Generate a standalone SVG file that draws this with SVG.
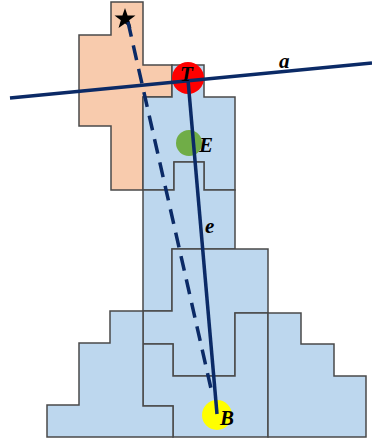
<svg xmlns="http://www.w3.org/2000/svg" width="372" height="441" viewBox="0 0 372 441">
<style>
.or{fill:#F8CBAD;stroke:#4a4a4a;stroke-width:1.5;stroke-linejoin:miter}
.bl{fill:#BDD7EE;stroke:#4a4a4a;stroke-width:1.5;stroke-linejoin:miter}
.ln{stroke:#0B2A66;stroke-width:3.5;fill:none;stroke-linecap:butt}
.lb{font-family:"Liberation Serif","Times New Roman",serif;font-style:italic;font-weight:bold;font-size:21px;fill:#000}
</style>
<rect width="372" height="441" fill="#ffffff"/>
<g id="pieces">
<polygon id="orange" class="or" points="111,2 143,2 143,65 172,65 172,97 143,97 143,190 111,190 111,126 79,126 79,35 111,35"/>
<polygon id="pieceA" class="bl" points="172,65 204,65 204,97 235,97 235,190 204,190 204,162 174,162 174,190 143,190 143,97 172,97"/>
<polygon id="pieceB" class="bl" points="143,190 174,190 174,162 204,162 204,190 235,190 235,249 172,249 172,311 143,311"/>
<polygon id="pieceC" class="bl" points="172,249 268,249 268,313 235,313 235,376 173,376 173,344 143,344 143,311 172,311"/>
<polygon id="pieceD" class="bl" points="143,344 173,344 173,376 235,376 235,313 268,313 268,437 173,437 173,406 143,406"/>
<polygon id="pieceL" class="bl" points="110,311 143,311 143,406 173,406 173,437 47,437 47,405 79,405 79,343 110,343"/>
<polygon id="pieceR" class="bl" points="268,313 301,313 301,344 334,344 334,376 366,376 366,437 268,437"/>
</g>
<g id="points">
<circle id="pT" cx="188" cy="78" r="16" fill="#FF0000"/>
<circle id="pE" cx="189" cy="143" r="13" fill="#70AD47"/>
<circle id="pB" cx="217" cy="415" r="15" fill="#FFFF00"/>
<polygon id="star" fill="#000" points="125,8 127.59,15.44 135.46,15.6 129.18,20.36 131.47,27.9 125,23.4 118.53,27.9 120.82,20.36 114.54,15.6 122.41,15.44"/>
</g>
<g id="connectors">
<line id="line-a" class="ln" x1="10" y1="98" x2="372" y2="63"/>
<line id="line-e" class="ln" x1="188" y1="80" x2="217" y2="414"/>
<line id="line-dash" class="ln" x1="128" y1="22" x2="212" y2="393" stroke-dasharray="15 9"/>
</g>
<g id="labels">
<text class="lb" x="180" y="81">T</text>
<text class="lb" x="199" y="152">E</text>
<text class="lb" x="205" y="233">e</text>
<text class="lb" x="279" y="68">a</text>
<text class="lb" x="220" y="425">B</text>
</g>
</svg>
